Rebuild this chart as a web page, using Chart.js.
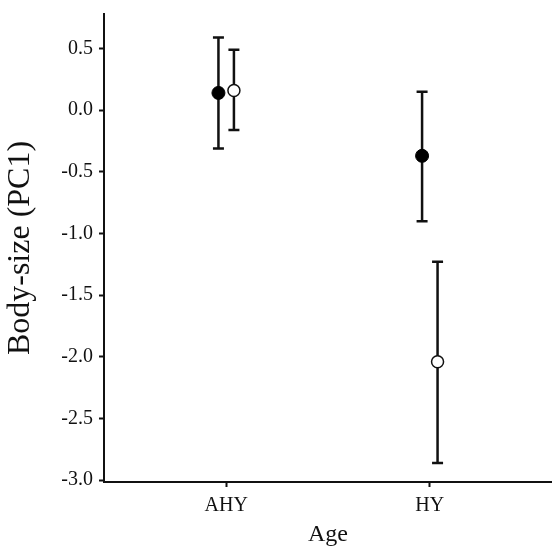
<!DOCTYPE html>
<html>
<head>
<meta charset="utf-8">
<script src="https://cdn.jsdelivr.net/npm/chart.js@4"></script>
<style>
  html, body { margin: 0; padding: 0; background: #fff; overflow: hidden; }
  canvas { display: block; }
</style>
</head>
<body>
<canvas id="c" width="552" height="547"></canvas>
<script>
// categories on the x axis
const categories = ['AHY', 'HY'];

// filled circles
const filledMean = [0.14, -0.37];
const filledLow  = [-0.31, -0.90];
const filledHigh = [0.59, 0.15];

// open circles
const openMean = [0.16, -2.04];
const openLow  = [-0.16, -2.86];
const openHigh = [0.49, -1.23];

// y tick values
const yTicks = [-3.0, -2.5, -2.0, -1.5, -1.0, -0.5, 0.0, 0.5];

const dodge = 0.038;
const serif = '"Liberation Serif", "Times New Roman", serif';

function buildPoints(mean, low, high, shift) {
  return mean.map((m, i) => ({ x: i + 1 + shift, y: m, lo: low[i], hi: high[i] }));
}

// draw the error bars below the points
const errorBars = {
  id: 'errorBars',
  beforeDatasetsDraw(chart) {
    const { ctx, scales: { x, y } } = chart;
    ctx.save();
    ctx.strokeStyle = '#111';
    ctx.lineWidth = 2.5;
    chart.data.datasets.forEach(ds => {
      ds.data.forEach(p => {
        const px = x.getPixelForValue(p.x);
        const yl = y.getPixelForValue(p.lo);
        const yh = y.getPixelForValue(p.hi);
        ctx.beginPath();
        ctx.moveTo(px, yl);
        ctx.lineTo(px, yh);
        ctx.moveTo(px - 5.5, yl);
        ctx.lineTo(px + 5.5, yl);
        ctx.moveTo(px - 5.5, yh);
        ctx.lineTo(px + 5.5, yh);
        ctx.stroke();
      });
    });
    ctx.restore();
  }
};

const ctx = document.getElementById('c').getContext('2d');

new Chart(ctx, {
  type: 'scatter',
  data: {
    datasets: [
      {
        label: 'filled',
        data: buildPoints(filledMean, filledLow, filledHigh, -dodge),
        pointRadius: 6.5,
        pointBackgroundColor: '#000',
        pointBorderColor: '#000',
        pointBorderWidth: 1
      },
      {
        label: 'open',
        data: buildPoints(openMean, openLow, openHigh, dodge),
        pointRadius: 6,
        pointBackgroundColor: '#fff',
        pointBorderColor: '#111',
        pointBorderWidth: 1.5
      }
    ]
  },
  options: {
    responsive: false,
    animation: false,
    layout: { autoPadding: false, padding: { top: 14, right: 0, bottom: 0, left: 0 } },
    plugins: {
      legend: { display: false },
      tooltip: { enabled: false }
    },
    scales: {
      x: {
        type: 'linear',
        min: 0.4,
        max: 2.6,
        afterFit: s => { s.height = 65; s.paddingLeft = 0; s.paddingRight = 0; },
        afterBuildTicks: s => { s.ticks = categories.map((c, i) => ({ value: i + 1 })); },
        ticks: {
          callback: v => categories[Math.round(v) - 1],
          font: { family: serif, size: 20 },
          color: '#111',
          padding: 7,
          maxRotation: 0
        },
        grid: {
          drawOnChartArea: false,
          tickLength: 5,
          tickWidth: 2,
          color: '#111'
        },
        border: { display: true, color: '#111', width: 2 },
        title: {
          display: true,
          text: 'Age',
          color: '#111',
          font: { family: serif, size: 24, lineHeight: 1 },
          padding: { top: 0, bottom: 0 }
        }
      },
      y: {
        min: -3.015,
        max: 0.78,
        afterFit: s => { s.width = 104; s.paddingTop = 0; s.paddingBottom = 0; },
        afterBuildTicks: s => { s.ticks = yTicks.map(v => ({ value: v })); },
        ticks: {
          callback: v => v.toFixed(1),
          font: { family: serif, size: 20 },
          color: '#111',
          padding: 6
        },
        grid: {
          drawOnChartArea: false,
          tickLength: 5,
          tickWidth: 2,
          color: '#111'
        },
        border: { display: true, color: '#111', width: 2 },
        title: {
          display: true,
          text: 'Body-size (PC1)',
          color: '#111',
          font: { family: serif, size: 32, lineHeight: 1 },
          padding: { top: 5, bottom: 0 }
        }
      }
    }
  },
  plugins: [errorBars]
});
</script>
</body>
</html>
